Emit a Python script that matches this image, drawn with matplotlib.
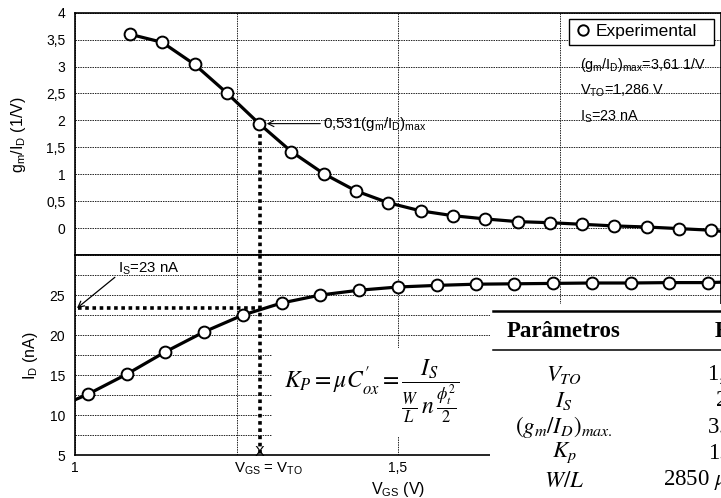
import matplotlib
matplotlib.use("Agg")
import matplotlib.pyplot as plt
from matplotlib.patches import Rectangle
from matplotlib.lines import Line2D
from matplotlib.ticker import MultipleLocator

plt.rcParams['font.family'] = ['Liberation Sans', 'DejaVu Sans']
plt.rcParams['mathtext.fontset'] = 'custom'
plt.rcParams['mathtext.rm'] = 'Liberation Sans'
plt.rcParams['mathtext.it'] = 'Liberation Sans:italic'

# gm/ID curve (top panel)
vgs_gm = [1.085, 1.135, 1.185, 1.235, 1.285, 1.335, 1.385, 1.435, 1.485, 1.535,
          1.585, 1.635, 1.685, 1.735, 1.785, 1.835, 1.885, 1.935, 1.985]
gm_id = [3.60, 3.45, 3.04, 2.51, 1.94, 1.42, 1.01, 0.69, 0.47, 0.32,
         0.23, 0.17, 0.12, 0.10, 0.07, 0.04, 0.02, -0.01, -0.04]
gm_line_end = (2.0, -0.06)

# ID curve (bottom panel), nA
vgs_id = [1.02, 1.08, 1.14, 1.20, 1.26, 1.32, 1.38, 1.44, 1.50, 1.56,
          1.62, 1.68, 1.74, 1.80, 1.86, 1.92, 1.98]
id_na = [12.6, 15.1, 17.9, 20.4, 22.5, 24.0, 25.0, 25.6, 26.0, 26.2,
         26.35, 26.4, 26.45, 26.5, 26.5, 26.55, 26.55]
id_line_start = (1.0, 11.9)
id_line_end = (2.0, 26.6)

# extracted parameters
vto = 1.286
i_s = 23.35
gm_at_vto = 1.94

gm_ticks = [0, 0.5, 1, 1.5, 2, 2.5, 3, 3.5, 4]
gm_ticklabels = ['0', '0,5', '1', '1,5', '2', '2,5', '3', '3,5', '4']
id_ticks = [5, 10, 15, 20, 25]
x_ticks = [1, 1.25, 1.5, 1.75, 2]
x_ticklabels = ['1', '', '1,5', '', '']

table_names = [r'$V_{TO}$', r'$I_S$', r'$(g_m/I_D)_{max.}$', r'$K_p$', r'$W/L$']
table_values = ['1,286 V', '23 nA', '3.61 V$^{-1}$', '1.36', r'2850 $\mu$m/1 $\mu$m']

W, H = 721, 498
fig = plt.figure(figsize=(W / 100, H / 100), dpi=100)


def fx(x):
    return x / W


def fy(y):
    return 1 - y / H


left = fx(75)
width = fx(721) - left
ax1 = fig.add_axes([left, fy(255), width, fy(12.7) - fy(255)])
ax2 = fig.add_axes([left, fy(455), width, fy(255) - fy(455)])

grid_kw = dict(color='#222222', linewidth=0.7, linestyle=(0, (1.5, 1)))
dot_kw = dict(color='black', linewidth=2.6, linestyle=(0, (1, 1)),
              dash_capstyle='butt', zorder=4)
mk_kw = dict(marker='o', markersize=8.5, markerfacecolor='white',
             markeredgecolor='black', markeredgewidth=1.4)

for ax in (ax1, ax2):
    ax.set_xlim(1, 2)
    ax.xaxis.set_major_locator(plt.FixedLocator(x_ticks))
    ax.grid(True, which='both', **grid_kw)
    ax.tick_params(length=0, labelsize=10, pad=7)
    ax.tick_params(axis='x', pad=4)
    for s in ax.spines.values():
        s.set_linewidth(1.2)
    ax.set_axisbelow(True)

# top panel
ax1.set_ylim(-0.5, 4)
ax1.set_yticks(gm_ticks)
ax1.set_yticklabels(gm_ticklabels)
ax1.set_xticklabels([])
ax1.plot(vgs_gm + [gm_line_end[0]], gm_id + [gm_line_end[1]], color='black',
         linewidth=2.3, zorder=3)
ax1.plot(vgs_gm, gm_id, linestyle='none', zorder=5, label='Experimental', **mk_kw)
ax1.plot([vto, vto], [gm_at_vto - 0.06, -0.5], **dot_kw)

leg = ax1.legend(loc='upper left', bbox_to_anchor=(0.7647, 0.874, 0.2245, 0.1),
                 mode='expand', borderaxespad=0,
                 fancybox=False, framealpha=1, edgecolor='black', fontsize=12.5,
                 handlelength=1.0, handletextpad=0.25, borderpad=0.3)
leg.get_frame().set_linewidth(1.0)
for h in leg.legend_handles:
    h.set_markersize(7.5)

ax1.text(1.782, 3.02, r'$\mathrm{(g_m/I_D)_{max}}$=3,61 1/V', fontsize=10.4, va='center')
ax1.text(1.782, 2.55, r'$\mathrm{V_{TO}}$=1,286 V', fontsize=10.4, va='center')
ax1.text(1.782, 2.07, r'$\mathrm{I_S}$=23 nA', fontsize=10.4, va='center')

ax1.annotate(r'0,531$\mathrm{(g_m/I_D)_{max}}$', xy=(vto, gm_at_vto), xytext=(1.384, gm_at_vto),
             fontsize=10.8, va='center', ha='left',
             arrowprops=dict(arrowstyle='->', lw=0.8, color='black', shrinkA=0, shrinkB=5))

# bottom panel
ax2.set_ylim(5, 30)
ax2.set_yticks(id_ticks)
ax2.yaxis.set_minor_locator(MultipleLocator(2.5))
ax2.tick_params(which='minor', length=0)
ax2.set_xticklabels(x_ticklabels)
ax2.plot([id_line_start[0]] + vgs_id + [id_line_end[0]],
         [id_line_start[1]] + id_na + [id_line_end[1]],
         color='black', linewidth=2.3, zorder=3)
ax2.plot(vgs_id, id_na, linestyle='none', zorder=5, **mk_kw)
ax2.plot([1.004, vto], [i_s, i_s], **dot_kw)
ax2.plot([vto, vto], [30, 5], **dot_kw)
ax2.text(vto, 5.4, 'X', fontsize=10.5, ha='center', va='center', zorder=6)
ax2.annotate(r'$\mathrm{I_S}$=23 nA', xy=(1.003, i_s), xytext=(1.066, 28.3),
             fontsize=10.8, va='center', ha='left',
             arrowprops=dict(arrowstyle='->', lw=0.9, color='black',
                             shrinkA=0, shrinkB=0, relpos=(0.03, 0.2)))

# axis labels
fig.text(fx(19), fy(135), r'$\mathrm{g_m/I_D}$ (1/V)', rotation=90, fontsize=11.5,
         ha='center', va='center')
fig.text(fx(31), fy(356), r'$\mathrm{I_D}$ (nA)', rotation=90, fontsize=11.5,
         ha='center', va='center')
fig.text(fx(268), fy(469), r'$\mathrm{V_{GS}}$ = $\mathrm{V_{TO}}$', fontsize=10.8,
         ha='center', va='center')
fig.text(fx(398), fy(489), r'$\mathrm{V_{GS}}$ (V)', fontsize=11.5, ha='center', va='center')

# formula overlay
fig.add_artist(Rectangle((fx(272), fy(437)), fx(490) - fx(272), fy(348) - fy(437),
                         transform=fig.transFigure, facecolor='white',
                         edgecolor='none', zorder=10))
fig.text(fx(372), fy(391),
         r'$K_P = \mu C^{\prime}_{ox} = \dfrac{I_S}{\frac{W}{L}\,n\,\frac{\phi_t^2}{2}}$',
         fontsize=17, ha='center', va='center', math_fontfamily='stix', zorder=11)

# table overlay
fig.add_artist(Rectangle((fx(490), 0), 1 - fx(490), fy(304),
                         transform=fig.transFigure, facecolor='white',
                         edgecolor='none', zorder=10))
fig.add_artist(Line2D([fx(493), 1], [fy(311), fy(311)], transform=fig.transFigure,
                      color='black', linewidth=1.8, zorder=11))
fig.add_artist(Line2D([fx(493), 1], [fy(350), fy(350)], transform=fig.transFigure,
                      color='black', linewidth=1.1, zorder=11))
fig.text(fx(564), fy(331), 'Parâmetros', fontsize=16.5, fontweight='bold',
         family='Liberation Serif', ha='center', va='center', zorder=12)
fig.text(fx(715), fy(331), 'Extraído', fontsize=16.5, fontweight='bold',
         family='Liberation Serif', ha='left', va='center', zorder=12)
row_y = [374, 400, 427, 453, 480]
val_x = [708, 716, 707, 708, 663]
for name, val, y, x in zip(table_names, table_values, row_y, val_x):
    fig.text(fx(564), fy(y), name, fontsize=16.5, ha='center', va='center',
             math_fontfamily='stix', zorder=12)
    fig.text(fx(x), fy(y), val, fontsize=16.5, ha='left', va='center',
             family='Liberation Serif', math_fontfamily='stix', zorder=12)

fig.savefig('out.png', dpi=100)
